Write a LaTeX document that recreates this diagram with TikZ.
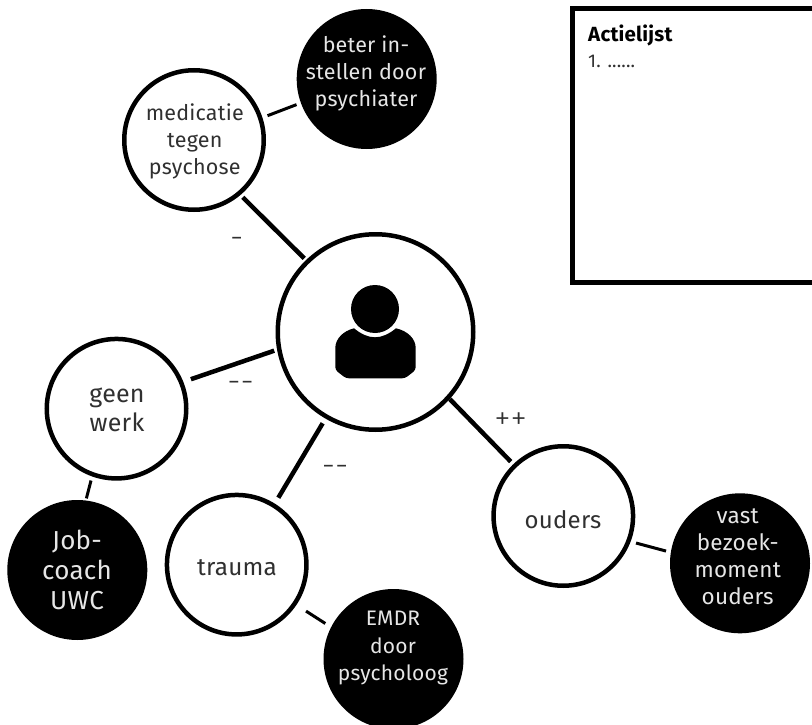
\documentclass[tikz,border=0pt]{standalone}
\usepackage{fontspec}
\setmainfont{Fira Sans}[LetterSpace=1]
\newfontfamily\signfont{Fira Sans Light}
\definecolor{ink}{HTML}{303030}
\definecolor{pale}{HTML}{E6E6E6}
\tikzset{
  ring/.style={circle,draw=black,fill=white,line width=4.5pt,inner sep=0pt,outer sep=0pt,minimum size=139.5pt},
  hub/.style={ring,minimum size=195.5pt},
  solid disc/.style={circle,fill=black,inner sep=0pt,outer sep=0pt,minimum size=140pt},
  txt/.style={align=center,inner sep=0pt,text=ink,font=\fontsize{22.5}{27}\selectfont},
  inv/.style={txt,text=pale},
  sign/.style={inner sep=0pt,text=ink,font=\signfont\fontsize{33}{33}\selectfont},
  main link/.style={line width=4.5pt},
  side link/.style={line width=3pt}
}
\begin{document}
\begin{tikzpicture}[x=1pt,y=-1pt]
\useasboundingbox (0,0) rectangle (812,725);
% action list
\draw[line width=5pt,miter limit=10] (812,8.2) -- (572.5,8.2) -- (572.5,282.5) -- (812,282.5);
\node[txt,anchor=base west,font=\fontsize{20.5}{24}\selectfont\bfseries,text=black] (title) at (588,41.7) {Actielijst};
\node[txt,anchor=base west,font=\fontsize{18.5}{24}\selectfont] (item) at (588,68) {1. ......};
% circles
\node[hub] (c) at (375.5,332) {};
\node[ring] (med) at (194,140) {};
\node[ring] (geen) at (116.5,408.7) {};
\node[ring] (trauma) at (236.7,564.7) {};
\node[ring] (ouders) at (563.3,516) {};
\node[solid disc] (beter) at (366.7,79) {};
\node[solid disc] (job) at (77.3,570) {};
\node[solid disc] (emdr) at (393.5,659) {};
\node[solid disc] (vast) at (740,563.3) {};
% person
\fill (375,309) circle (24);
\fill (354,328.3) .. controls (361,334) and (368,337.3) .. (375,337.3)
  .. controls (382,337.3) and (389,334) .. (396,328.3)
  .. controls (408,331) and (415.7,339) .. (415.7,348)
  [rounded corners=3pt] -- (415.7,370) -- (405,378.3) -- (346,378.3) -- (335.3,370) [sharp corners] -- (335.3,348)
  .. controls (335.3,339) and (343,331) .. (354,328.3) -- cycle;
% connectors
\draw[main link,shorten <=5.5pt,shorten >=4.7pt] (med.-50.7) -- (c.134.8);
\draw[side link,shorten <=7.7pt,shorten >=4.7pt] (med.18.8) -- (beter.200.4);
\draw[main link,shorten <=10.3pt,shorten >=5.3pt] (geen.22.2) -- (c.190);
\draw[side link,shorten <=6.5pt,shorten >=2.2pt] (geen.-110.2) -- (job.83.3);
\draw[main link,shorten <=9.1pt,shorten >=7.7pt] (trauma.58.2) -- (c.-120);
\draw[side link,shorten <=13.7pt,shorten >=6.9pt] (trauma.-34.3) -- (emdr.153);
\draw[main link,shorten <=2.4pt,shorten >=5.9pt] (c.-42.8) -- (ouders.134.1);
\draw[side link,shorten <=7.9pt,shorten >=5pt] (ouders.-21.9) -- (vast.171.9);
% texts
\node[txt,font=\fontsize{21.5}{27}\selectfont] (medt) at (194.8,141.7) {medicatie\\tegen\\psychose};
\node[inv,font=\fontsize{21.5}{27}\selectfont] (betert) at (366,73) {beter in-\\stellen door\\psychiater};
\node[txt,font=\fontsize{25}{29}\selectfont] (geent) at (117,409.5) {geen\\werk};
\node[inv,font=\fontsize{26}{30}\selectfont] (jobt) at (77,570) {Job-\\coach\\UWC};
\node[txt,font=\fontsize{24.3}{27}\selectfont] (traumat) at (237,568) {trauma};
\node[inv,font=\fontsize{21}{27.5}\selectfont] (emdrt) at (393,648) {EMDR\\door\\psycholoog};
\node[txt,font=\fontsize{24}{27}\selectfont] (oudert) at (563,520) {ouders};
\node[inv] (vastt) at (737.7,557) {vast\\bezoek-\\moment\\ouders};
% signs
\node[sign] (s1) at (236.7,243) {-};
\node[sign] (s2) at (240.7,386.7) {-{}-};
\node[sign] (s3) at (335,471) {-{}-};
\node[sign] (s4) at (510.7,420.7) {+{}+};
\end{tikzpicture}
\end{document}
